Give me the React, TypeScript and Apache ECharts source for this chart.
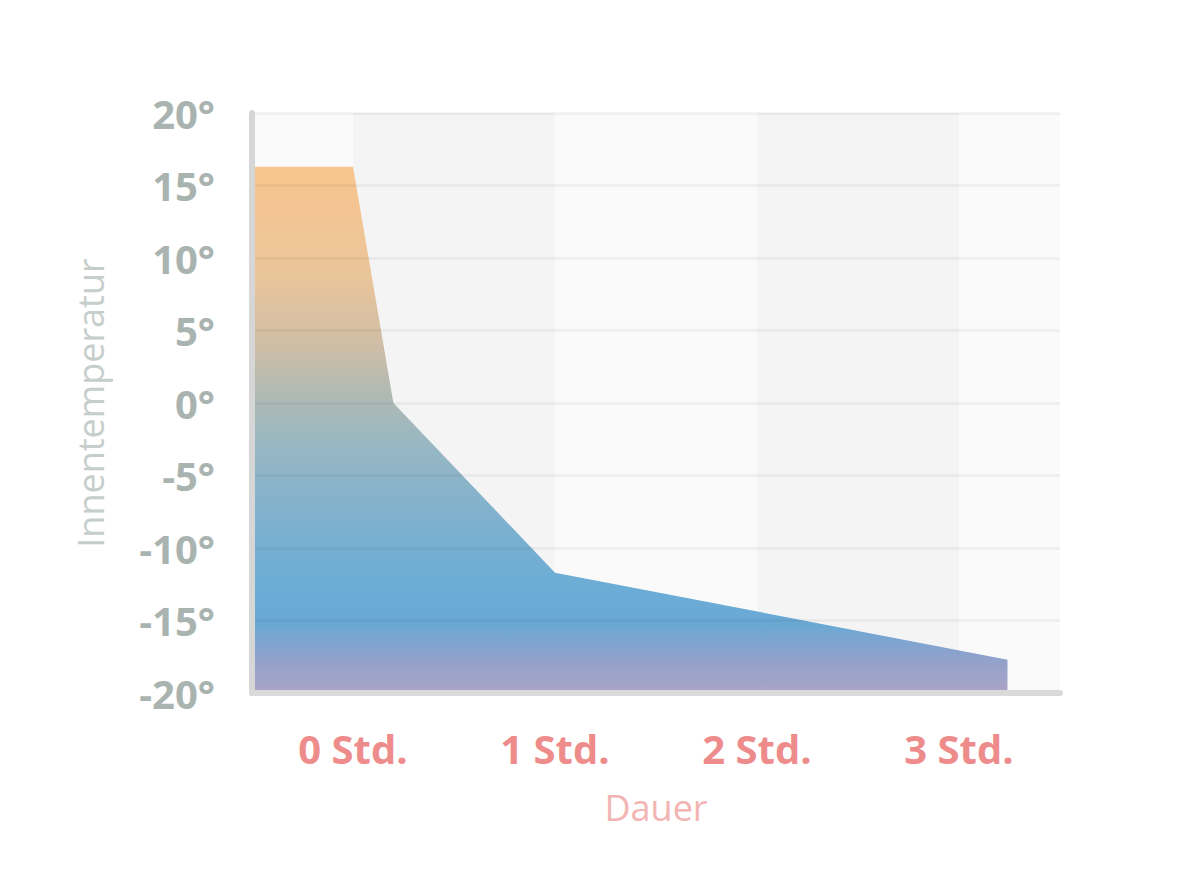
import { useEffect, useRef } from "react";
import * as echarts from "echarts";

// hours after the heating goes off, inside temperature in °C
const hours = [-0.5, 0, 0.2, 1, 3.24];
const temps = [16.3, 16.3, 0, -11.7, -17.7];

const hourTicks = [0, 1, 2, 3];
const shadedHours = [
  [0, 1],
  [2, 3],
];

const FONT = "'Open Sans', 'Noto Sans', sans-serif";

export default function App() {
  const ref = useRef<HTMLDivElement | null>(null);

  useEffect(() => {
    if (!ref.current) return;
    const chart = echarts.init(ref.current, undefined, { renderer: "svg" });

    const fill = new echarts.graphic.LinearGradient(0, 0, 0, 1, [
      { offset: 0, color: "#f8c58e" },
      { offset: 0.2, color: "#ebc59a" },
      { offset: 0.33, color: "#d2bea5" },
      { offset: 0.43, color: "#b0bab3" },
      { offset: 0.53, color: "#98b7c3" },
      { offset: 0.68, color: "#7db0cf" },
      { offset: 0.8, color: "#6badd6" },
      { offset: 0.87, color: "#6aa8d4" },
      { offset: 0.93, color: "#8ea2cc" },
      { offset: 1, color: "#aba3c6" },
    ]);

    chart.setOption({
      animation: false,
      backgroundColor: "#ffffff",
      textStyle: { fontFamily: FONT },
      grid: {
        left: 252,
        right: 139,
        top: 113,
        bottom: 199,
        show: true,
        backgroundColor: "#fafafa",
        borderWidth: 0,
      },
      xAxis: {
        type: "value",
        min: -0.5,
        max: 3.5,
        interval: 0.5,
        z: 3,
        name: "Dauer",
        nameLocation: "middle",
        nameGap: 96,
        nameTextStyle: { color: "#f3b4b4", fontSize: 36, fontFamily: FONT },
        axisLine: { show: true, onZero: false, lineStyle: { color: "#dadada", width: 6 } },
        axisTick: { show: false },
        splitLine: { show: false },
        axisLabel: {
          margin: 35,
          color: "#ee8b8b",
          fontSize: 40,
          fontWeight: "bold",
          fontFamily: FONT,
          showMinLabel: false,
          showMaxLabel: false,
          formatter: (v: number) => (hourTicks.includes(v) ? `${v} Std.` : ""),
        },
      },
      yAxis: {
        type: "value",
        min: -20,
        max: 20,
        interval: 5,
        z: 3,
        name: "Innentemperatur",
        nameLocation: "middle",
        nameGap: 144,
        nameTextStyle: { color: "#c6cecc", fontSize: 36, fontFamily: FONT },
        axisLine: { show: true, onZero: false, lineStyle: { color: "#d6d6d6", width: 6 } },
        axisTick: { show: false },
        splitLine: { lineStyle: { color: "rgba(0,0,0,0.045)", width: 3 } },
        axisLabel: {
          margin: 37,
          color: "#a9b3b0",
          fontSize: 40,
          fontWeight: "bold",
          fontFamily: FONT,
          formatter: (v: number) => `${v}°`,
        },
      },
      series: [
        {
          type: "line",
          data: [],
          z: 1,
          silent: true,
          markArea: {
            silent: true,
            itemStyle: { color: "#f4f4f4" },
            data: shadedHours.map(([a, b]) => [{ xAxis: a }, { xAxis: b }]),
          },
        },
        {
          type: "line",
          z: 2,
          data: hours.map((h, i) => [h, temps[i]]),
          symbol: "none",
          lineStyle: { width: 0 },
          areaStyle: { origin: "start", color: fill, opacity: 1 },
        },
      ],
    });

    return () => chart.dispose();
  }, []);

  return (
    <div
      ref={ref}
      style={{ position: "absolute", left: 0, top: 0, width: 1199, height: 892 }}
    />
  );
}
